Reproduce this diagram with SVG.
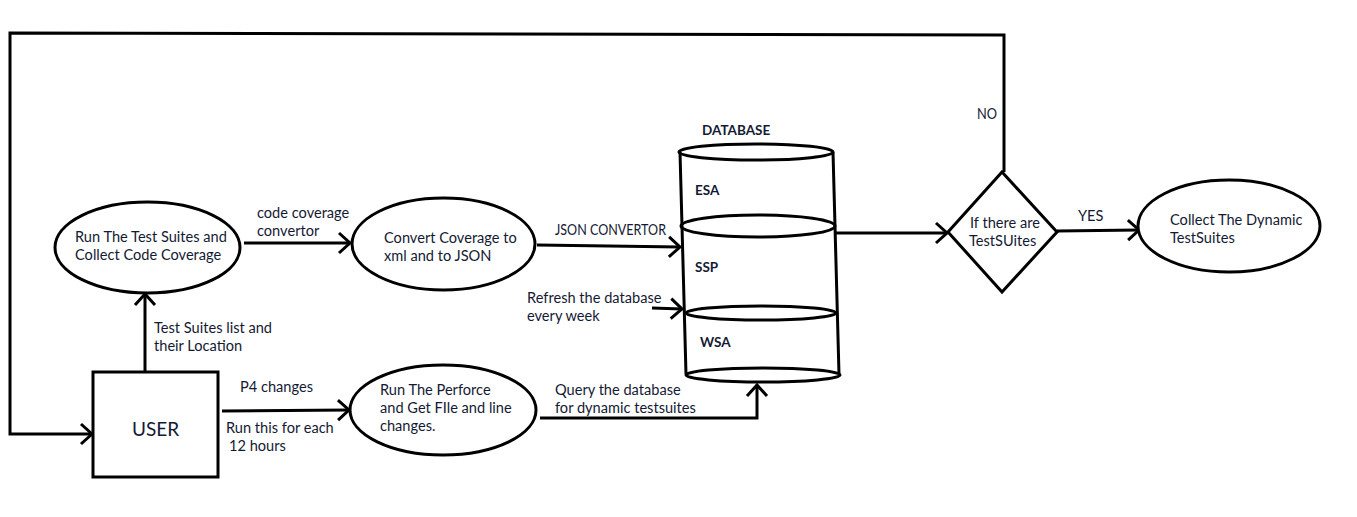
<svg xmlns="http://www.w3.org/2000/svg" width="1357" height="517" viewBox="0 0 1357 517">
<style>
.s{fill:none;stroke:#000;stroke-width:3}
.n{fill:#fff;stroke:#000;stroke-width:3}
text{font-family:Lato,"Open Sans","Liberation Sans",sans-serif;font-size:14.6px;fill:#141a33}
.b{font-weight:bold;font-size:13.5px}
</style>
<defs>
<marker id="a" markerUnits="userSpaceOnUse" markerWidth="20" markerHeight="24" refX="13" refY="12" orient="auto" viewBox="0 0 20 24">
<path d="M2,2 L13,12 L2,22" fill="none" stroke="#000" stroke-width="3"/>
</marker>
</defs>
<rect width="1357" height="517" fill="#fff"/>
<g id="connectors">
<polyline class="s" points="1004,172 1004,35 10,33 10,434 92,434" marker-end="url(#a)"/>
<line class="s" x1="145" y1="372" x2="145" y2="294" marker-end="url(#a)"/>
<line class="s" x1="244" y1="243" x2="350" y2="243" marker-end="url(#a)"/>
<line class="s" x1="537" y1="245" x2="680" y2="247" marker-end="url(#a)"/>
<line class="s" x1="652" y1="308" x2="682" y2="309" marker-end="url(#a)"/>
<line class="s" x1="836" y1="233" x2="947" y2="233" marker-end="url(#a)"/>
<line class="s" x1="1057" y1="231" x2="1139" y2="230" marker-end="url(#a)"/>
<line class="s" x1="222" y1="411" x2="349" y2="410" marker-end="url(#a)"/>
<polyline class="s" points="540,418 757,418 757,385" marker-end="url(#a)"/>
<text x="257" y="218">code coverage</text>
<text x="257" y="236">convertor</text>
<text x="555" y="235" textLength="111" lengthAdjust="spacingAndGlyphs">JSON CONVERTOR</text>
<text x="527" y="303">Refresh the database</text>
<text x="527" y="321">every week</text>
<text x="977" y="119" textLength="20" lengthAdjust="spacingAndGlyphs">NO</text>
<text x="1078" y="221">YES</text>
<text x="154" y="333">Test Suites list and</text>
<text x="154" y="351">their Location</text>
<text x="240" y="392">P4 changes</text>
<text x="226" y="433">Run this for each</text>
<text x="229" y="451"> 12 hours</text>
<text x="555" y="395">Query the database</text>
<text x="555" y="413">for dynamic testsuites</text>
</g>
<g id="run-tests">
<ellipse class="n" cx="147.5" cy="247.5" rx="92.5" ry="45.5"/>
<text x="75" y="242">Run The Test Suites and</text>
<text x="75" y="260">Collect Code Coverage</text>
</g>
<g id="convert">
<ellipse class="n" cx="443.5" cy="244" rx="91.5" ry="46"/>
<text x="384" y="243">Convert Coverage to</text>
<text x="384" y="261">xml and to JSON</text>
</g>
<g id="database">
<path class="s" d="M680,152 L686,374 M833,152 L839,374"/>
<ellipse class="s" cx="756" cy="152" rx="77" ry="8"/>
<ellipse class="s" cx="758" cy="226" rx="77" ry="11"/>
<ellipse class="s" cx="761" cy="313" rx="75" ry="7"/>
<ellipse class="s" cx="763" cy="375" rx="77" ry="7"/>
<text class="b" x="702" y="135">DATABASE</text>
<text class="b" x="695" y="195">ESA</text>
<text class="b" x="695" y="272">SSP</text>
<text class="b" x="700" y="347">WSA</text>
</g>
<g id="decision">
<polygon class="n" points="948,232 1002,172 1057,232 1002,292"/>
<text x="970" y="228">If there are</text>
<text x="969" y="246">TestSUites</text>
</g>
<g id="collect">
<ellipse class="n" cx="1229" cy="226" rx="91" ry="46"/>
<text x="1170" y="225">Collect The Dynamic</text>
<text x="1170" y="243">TestSuites</text>
</g>
<g id="user">
<rect class="n" x="93" y="372" width="125" height="105"/>
<text x="155.5" y="436" text-anchor="middle" style="font-size:19px">USER</text>
</g>
<g id="perforce">
<ellipse class="n" cx="443" cy="410" rx="93" ry="45"/>
<text x="380" y="395">Run The Perforce</text>
<text x="380" y="413">and Get FIle and line</text>
<text x="380" y="431">changes.</text>
</g>
</svg>
